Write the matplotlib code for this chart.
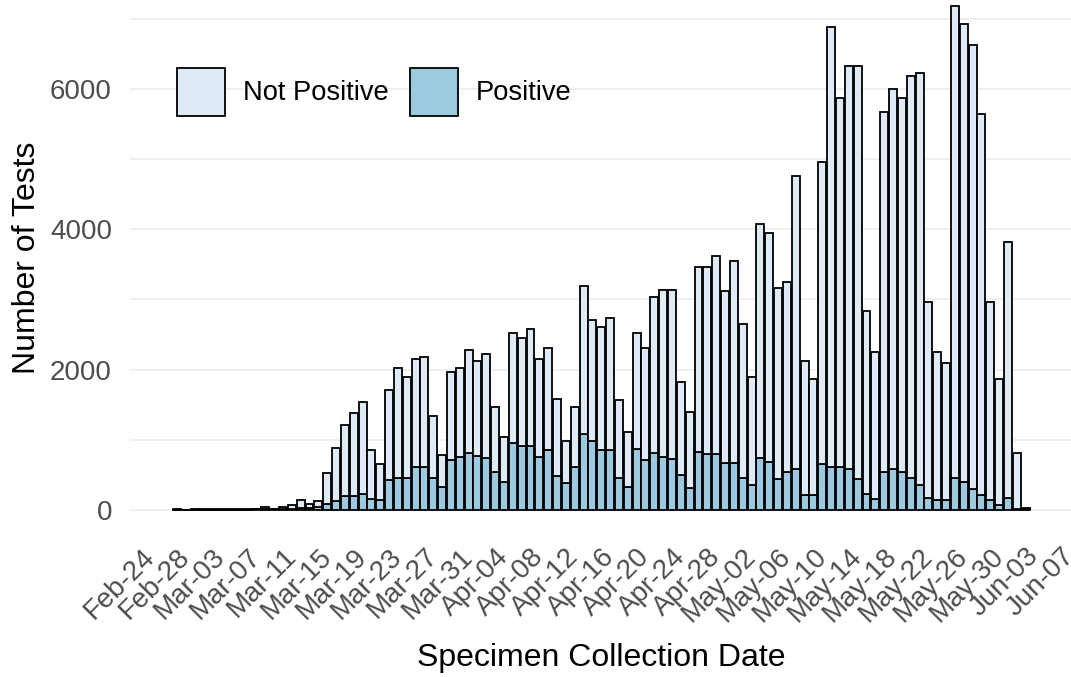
import numpy as np
import pandas as pd
import matplotlib
matplotlib.use("Agg")
import matplotlib.pyplot as plt
import matplotlib.dates as mdates
from matplotlib.patches import Patch

plt.rcParams['font.family'] = ['Liberation Sans', 'DejaVu Sans']

# daily counts, Feb-28 .. Jun-03 (2020)
start_day = "2020-02-28"
total_tests = [5, 0, 5, 5, 5, 5, 5, 5, 10, 10,
               47, 15, 47, 71, 133, 85, 119, 522, 888, 1206,
               1377, 1543, 855, 655, 1709, 2018, 1890, 2151, 2184, 1339,
               783, 1970, 2018, 2279, 2118, 2222, 1472, 1045, 2517, 2446,
               2574, 2151, 2312, 1577, 983, 1472, 3195, 2707, 2602, 2740,
               1572, 1107, 2517, 2312, 3039, 3134, 3134, 1828, 1401, 3457,
               3457, 3618, 3124, 3552, 2650, 1890, 4074, 3941, 3158, 3253,
               4758, 2123, 1861, 4953, 6876, 5865, 6325, 6325, 2840, 2246,
               5665, 5997, 5865, 6190, 6230, 2967, 2255, 2089, 7179, 6918,
               6624, 5641, 2967, 1861, 3813, 816, 25]
positive = [0, 0, 0, 0, 0, 1, 1, 2, 3, 5,
            5, 5, 10, 15, 20, 30, 45, 85, 119, 200,
            200, 223, 157, 133, 427, 460, 460, 617, 617, 460,
            323, 712, 750, 807, 760, 740, 546, 394, 950, 916,
            916, 750, 855, 484, 380, 617, 1083, 983, 855, 855,
            460, 325, 869, 712, 807, 750, 722, 499, 318, 817,
            793, 793, 665, 665, 451, 356, 736, 680, 442, 546,
            579, 214, 214, 650, 617, 617, 579, 442, 223, 157,
            532, 579, 546, 451, 356, 166, 142, 142, 451, 394,
            294, 214, 142, 71, 166, 10, 5]

labels = ["Not Positive", "Positive"]
colors = ["#DEEBF7", "#9ECAE1"]

dates = pd.date_range(start_day, periods=len(total_tests), freq="D")
x = mdates.date2num(dates)
total_tests = np.array(total_tests)
positive = np.array(positive)
not_positive = total_tests - positive

W, H = 1071, 677
fig = plt.figure(figsize=(W / 100, H / 100), dpi=100)
# panel in pixels: left 130, right 1072.5, top -19, bottom 535
ax = fig.add_axes([130 / W, 1 - 535 / H, 942.5 / W, 554 / H])

ax.bar(x, positive, width=0.9, color=colors[1], edgecolor="black", linewidth=1.3, zorder=3)
ax.bar(x, not_positive, width=0.9, bottom=positive, color=colors[0],
       edgecolor="black", linewidth=1.3, zorder=3)

ax.set_xlim(x[0] - 5.3, x[0] + 101.3)
ax.set_ylim(-359, 7538)

ticks = pd.date_range("2020-02-24", "2020-06-07", freq="4D")
ax.set_xticks(mdates.date2num(ticks))
ax.set_xticklabels([d.strftime("%b-%d") for d in ticks], rotation=45,
                   ha="right", va="top", rotation_mode="anchor")
ax.set_yticks([0, 2000, 4000, 6000])
ax.set_yticks([1000, 3000, 5000, 7000], minor=True)
ax.tick_params(axis="both", which="both", length=0, labelsize=20, labelcolor="#4D4D4D")
ax.tick_params(axis="x", pad=6)
ax.tick_params(axis="y", pad=13)

ax.grid(axis="y", which="both", color="#EBEBEB", linewidth=1.1, zorder=0)
for s in ax.spines.values():
    s.set_visible(False)

ax.set_xlabel("Specimen Collection Date", fontsize=23)
ax.xaxis.set_label_coords(0.5, -0.195)
ax.set_ylabel("Number of Tests", fontsize=23)
ax.yaxis.set_label_coords(-0.093, 0.5)

handles = [Patch(facecolor=c, edgecolor="black", linewidth=1.3) for c in colors]
ax.legend(handles, labels, ncol=2, frameon=False, fontsize=19.6,
          loc="upper left", bbox_to_anchor=(177 / W, 1 - 68 / H),
          bbox_transform=fig.transFigure, borderpad=0, borderaxespad=0,
          handlelength=1.76, handleheight=2.34, handletextpad=0.66,
          columnspacing=0.8)

fig.savefig("out.png", dpi=100)
